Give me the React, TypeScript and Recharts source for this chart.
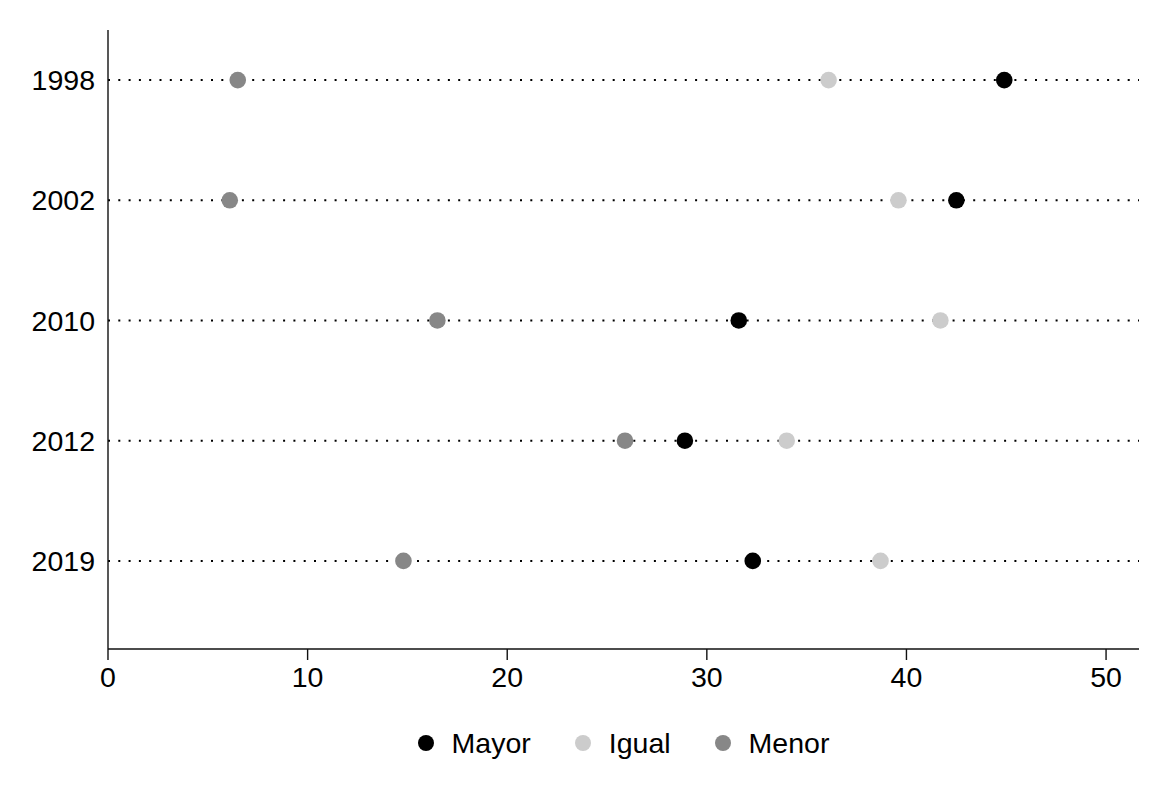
import { ScatterChart, Scatter, XAxis, YAxis, ReferenceLine, Legend } from 'recharts'

const years = ['1998', '2002', '2010', '2012', '2019']
const mayor = [44.9, 42.5, 31.6, 28.9, 32.3]
const igual = [36.1, 39.6, 41.7, 34.0, 38.7]
const menor = [6.5, 6.1, 16.5, 25.9, 14.8]
const xTicks = [0, 10, 20, 30, 40, 50]

const series = [
  { name: 'Mayor', values: mayor, color: '#000000' },
  { name: 'Igual', values: igual, color: '#cccccc' },
  { name: 'Menor', values: menor, color: '#878787' },
]

const font = '"Liberation Sans", Arial, sans-serif'
const fontSize = 28.5

const Dot = (color: string) => (props: any) => (
  <circle cx={props.cx} cy={props.cy} r={8.3} fill={color} />
)

const renderLegend = () => (
  <div style={{ display: 'flex', justifyContent: 'center', alignItems: 'center', height: 32, fontFamily: font, fontSize, color: '#000' }}>
    {series.map((s, i) => (
      <div key={s.name} style={{ display: 'flex', alignItems: 'center', marginRight: i < series.length - 1 ? 44 : 0 }}>
        <svg width={16} height={16} style={{ marginRight: 18 }}>
          <circle cx={8} cy={8} r={8} fill={s.color} />
        </svg>
        <span>{s.name}</span>
      </div>
    ))}
  </div>
)

export default function App() {
  return (
    <div style={{ position: 'absolute', left: 0, top: 0, background: '#fff' }}>
      <ScatterChart width={1171} height={791} margin={{ top: 30, right: 32, bottom: 0, left: 0 }}>
        <XAxis
          type="number"
          dataKey="x"
          domain={[0, 51.65]}
          ticks={xTicks}
          allowDataOverflow
          height={142}
          tickSize={11}
          tickMargin={7}
          stroke="#111"
          strokeWidth={1.4}
          tick={{ fill: '#000', fontSize, fontFamily: font }}
        />
        <YAxis
          type="number"
          dataKey="y"
          domain={[-0.4167, 4.733]}
          reversed
          ticks={[0, 1, 2, 3, 4]}
          tickFormatter={(i: number) => years[i]}
          allowDataOverflow
          width={108}
          tickLine={false}
          tickMargin={7}
          stroke="#111"
          strokeWidth={1.4}
          tick={{ fill: '#000', fontSize, fontFamily: font }}
        />
        {years.map((y, i) => (
          <ReferenceLine key={y} y={i} stroke="#000" strokeWidth={2} strokeDasharray="2 8.3" />
        ))}
        {series.map((s) => (
          <Scatter
            key={s.name}
            name={s.name}
            data={s.values.map((v, i) => ({ x: v, y: i }))}
            fill={s.color}
            shape={Dot(s.color)}
            isAnimationActive={false}
          />
        ))}
        <Legend
          layout="horizontal"
          verticalAlign="middle"
          content={renderLegend}
          wrapperStyle={{ top: 727, left: 108, width: 1031 }}
        />
      </ScatterChart>
    </div>
  )
}
